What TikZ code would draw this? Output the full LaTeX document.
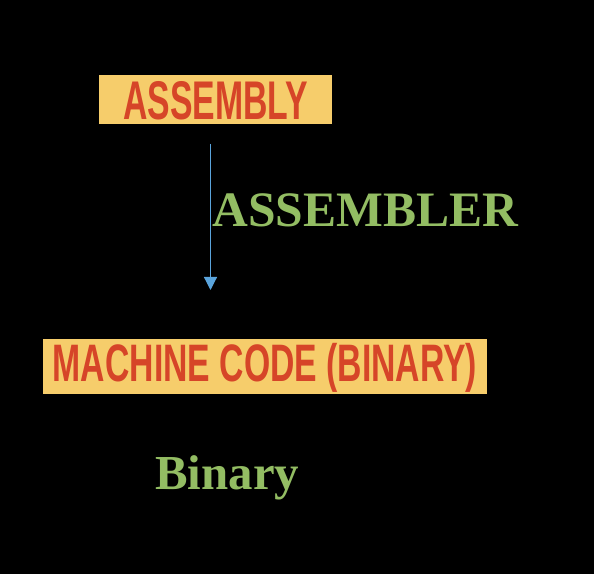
\documentclass[tikz,border=0pt]{standalone}
\usepackage{xcolor,tikz,fontspec}
\usetikzlibrary{arrows.meta,positioning,calc}
\setmainfont{Liberation Serif}
\newfontfamily\condfont[FakeStretch=0.62]{Liberation Sans}
\newfontfamily\widecondfont[FakeStretch=0.64]{Liberation Sans}
\definecolor{sand}{RGB}{246,205,107}
\definecolor{brick}{RGB}{214,69,40}
\definecolor{leaf}{RGB}{147,189,99}
\definecolor{sky}{RGB}{90,164,220}
\tikzset{
  arr/.style={-{Triangle[length=2.6mm,width=2.6mm]},line width=0.7pt,draw=sky},
  tag/.style={fill=sand,text=brick,inner sep=0pt,align=center,text depth=0pt},
  lab/.style={text=leaf,inner sep=0pt,anchor=base west}
}
\begin{document}
\begin{tikzpicture}
  \fill[black] (0,0) rectangle (11.88,11.48);
  \useasboundingbox (0,0) rectangle (11.88,11.48);

  \node[tag,minimum width=4.66cm,minimum height=0.98cm,text height=0.82cm,
    font=\condfont\bfseries\fontsize{31}{31}\selectfont] (asm) at (4.31,9.49) {ASSEMBLY};
  \node[tag,minimum width=8.88cm,minimum height=1.10cm,text height=0.62cm,
    font=\widecondfont\bfseries\fontsize{30}{30}\selectfont] (mc) at (5.30,4.15) {MACHINE CODE (BINARY)};

  \coordinate (top) at (4.21,8.60);
  \coordinate (tip) at (4.21,5.68);
  \draw[arr] (top) -- (tip);

  \node[lab,font=\bfseries\fontsize{28.2}{28.2}\selectfont] (asr) at (4.24,6.94) {ASSEMBLER};
  \node[lab,font=\bfseries\fontsize{27.8}{27.8}\selectfont] (bin) at (3.10,1.68) {Binary};
\end{tikzpicture}
\end{document}
